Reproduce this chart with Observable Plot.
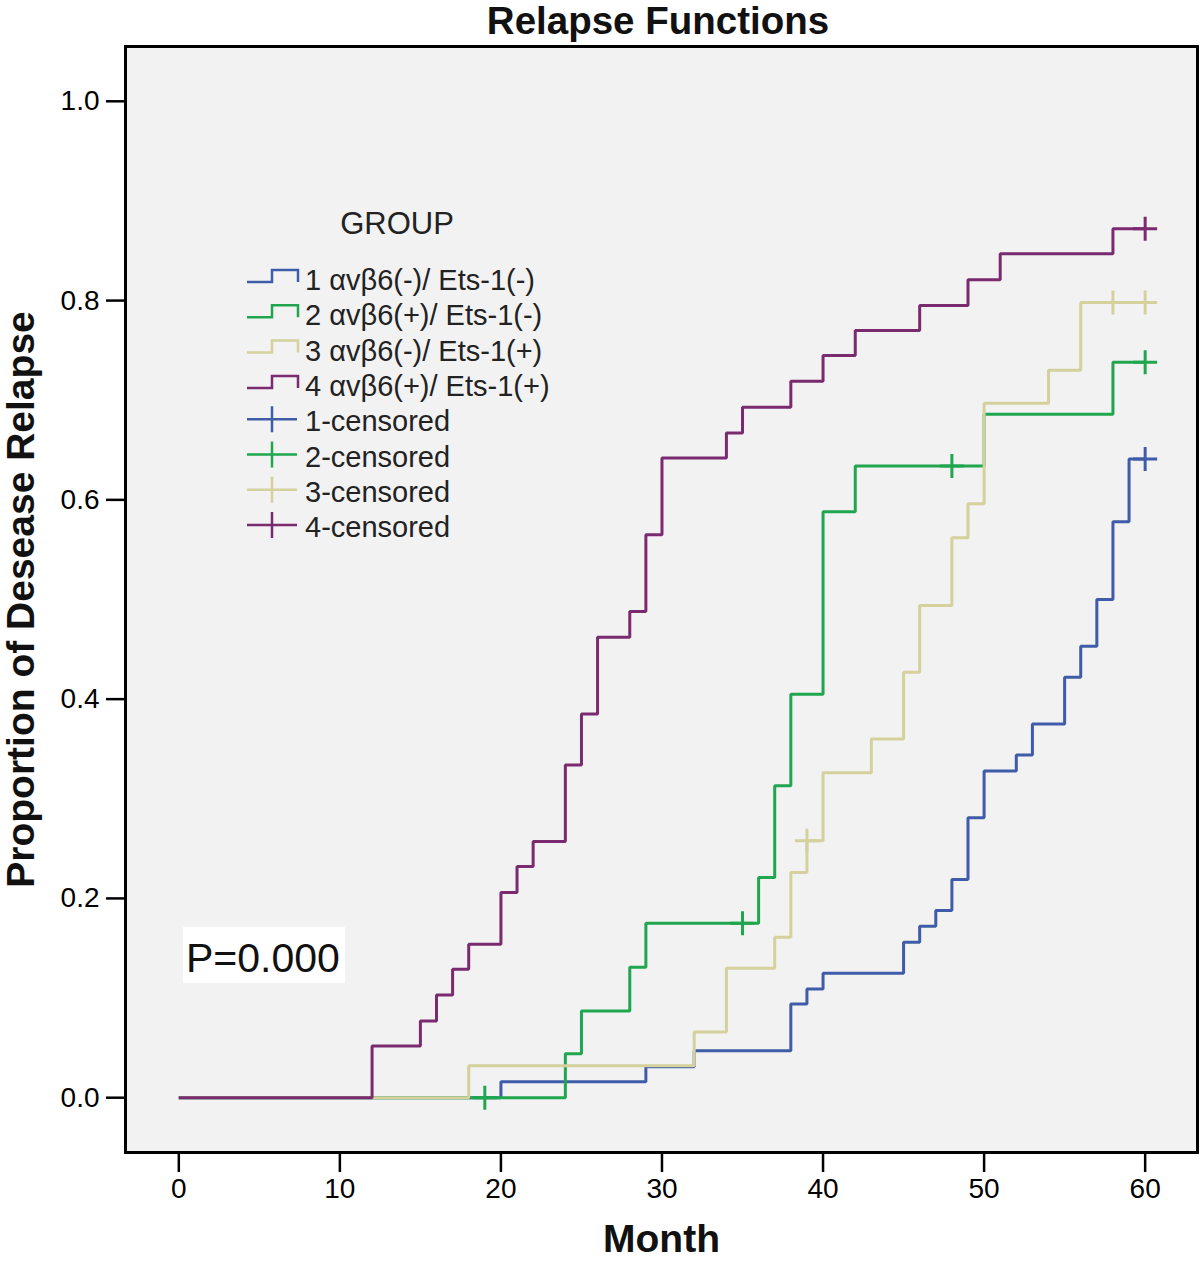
<!DOCTYPE html>
<html><head><meta charset="utf-8">
<script src="https://cdn.jsdelivr.net/npm/d3@7"></script>
<script src="https://cdn.jsdelivr.net/npm/@observablehq/plot@0.6"></script>
<style>
body{margin:0;background:#fff;font-family:"Liberation Sans",Arial,Helvetica,sans-serif;}
#wrap{position:relative;width:1200px;height:1266px;overflow:hidden;}
#title{height:40px;width:1084px;padding-left:116px;text-align:center;font-weight:bold;font-size:38.5px;line-height:42px;overflow:visible;color:#111;}
#overlay{position:absolute;left:0;top:0;pointer-events:none;}
</style></head><body>
<div id="wrap"><div id="title">Relapse Functions</div><div id="chart"></div></div>
<script>
// ---- data ----
const groups = ["1", "2", "3", "4"];
const groupLabels = ["1 αvβ6(-)/ Ets-1(-)", "2 αvβ6(+)/ Ets-1(-)", "3 αvβ6(-)/ Ets-1(+)", "4 αvβ6(+)/ Ets-1(+)"];
const censorLabels = ["1-censored", "2-censored", "3-censored", "4-censored"];
const colors = ["#3f5ca8", "#1fa64e", "#d4d19c", "#7a2a6f"];

const g1Time = [20, 29, 32, 38, 39, 40, 45, 46, 47, 48, 49, 50, 52, 53, 55, 56, 57, 58, 59];
const g1Val  = [0.016, 0.031, 0.047, 0.094, 0.109, 0.125, 0.156, 0.172, 0.188, 0.219, 0.281, 0.328, 0.344, 0.375, 0.422, 0.453, 0.500, 0.578, 0.641];
const g1CensTime = [60];
const g1CensVal  = [0.641];

const g2Time = [24, 25, 28, 29, 36, 37, 38, 40, 42, 50, 58];
const g2Val  = [0.044, 0.087, 0.131, 0.175, 0.221, 0.313, 0.405, 0.588, 0.634, 0.686, 0.738];
const g2CensTime = [19, 35, 48, 60];
const g2CensVal  = [0, 0.175, 0.634, 0.738];

const g3Time = [18, 32, 34, 37, 38, 39, 40, 43, 45, 46, 48, 49, 50, 54, 56];
const g3Val  = [0.032, 0.066, 0.130, 0.161, 0.226, 0.258, 0.326, 0.360, 0.427, 0.494, 0.562, 0.596, 0.697, 0.730, 0.798];
const g3CensTime = [39, 58, 60];
const g3CensVal  = [0.258, 0.798, 0.798];

const g4Time = [12, 15, 16, 17, 18, 20, 21, 22, 24, 25, 26, 28, 29, 30, 34, 35, 38, 40, 42, 46, 49, 51, 58];
const g4Val  = [0.052, 0.077, 0.103, 0.129, 0.154, 0.206, 0.232, 0.257, 0.334, 0.385, 0.462, 0.488, 0.565, 0.642, 0.667, 0.693, 0.719, 0.745, 0.770, 0.795, 0.821, 0.847, 0.872];
const g4CensTime = [60];
const g4CensVal  = [0.872];

const endTime = [60, 60, 60, 60];
const xTicks = [0, 10, 20, 30, 40, 50, 60];
const yTicks = [0, 0.2, 0.4, 0.6, 0.8, 1.0];
const pText = "P=0.000";

// ---- build tables ----
const times = [g1Time, g2Time, g3Time, g4Time];
const vals = [g1Val, g2Val, g3Val, g4Val];
const cTimes = [g1CensTime, g2CensTime, g3CensTime, g4CensTime];
const cVals = [g1CensVal, g2CensVal, g3CensVal, g4CensVal];

const steps = [];
groups.forEach((g, i) => {
  steps.push({g, t: 0, v: 0});
  times[i].forEach((t, j) => steps.push({g, t, v: vals[i][j]}));
  steps.push({g, t: endTime[i], v: vals[i][vals[i].length - 1]});
});
const censored = [];
groups.forEach((g, i) => cTimes[i].forEach((t, j) => censored.push({g, t, v: cVals[i][j]})));

const plusSymbol = {
  draw(ctx, size) {
    const r = Math.sqrt(size / Math.PI);
    ctx.moveTo(-r, 0); ctx.lineTo(r, 0);
    ctx.moveTo(0, -r); ctx.lineTo(0, r);
  }
};

const font = '"Liberation Sans", Arial, Helvetica, sans-serif';
const chart = Plot.plot({
  width: 1200, height: 1226,
  marginTop: 6, marginLeft: 125, marginRight: 3, marginBottom: 114,
  x: {domain: [-3.31, 63.25]},
  y: {domain: [-0.055, 1.055]},
  color: {domain: groups, range: colors},
  style: {fontFamily: font, fontSize: "28px", color: "#000", background: "transparent", overflow: "visible"},
  marks: [
    Plot.frame({fill: "#f2f2f2"}),
    Plot.axisY({ticks: yTicks, tickFormat: d => d.toFixed(1), tickSize: 19, tickPadding: 7, strokeWidth: 2.5, fontSize: 28, label: null}),
    Plot.axisX({ticks: xTicks, tickSize: 20, tickPadding: 6, strokeWidth: 2.5, fontSize: 28, label: null}),
    Plot.line(steps, {x: "t", y: "v", z: "g", stroke: "g", curve: "step-after", strokeWidth: 3, strokeLinejoin: "miter", strokeLinecap: "butt"}),
    Plot.dot(censored, {x: "t", y: "v", stroke: "g", symbol: plusSymbol, r: 12, strokeWidth: 3, fill: "none"}),
    Plot.frame({stroke: "#000", strokeWidth: 3}),
    Plot.text(["Month"], {frameAnchor: "bottom", text: d => d, dy: 99, fontSize: 39, fontWeight: "bold", fill: "#111"}),
    Plot.text(["Proportion of Desease Relapse"], {frameAnchor: "left", textAnchor: "middle", text: d => d, rotate: -90, dx: -104, fontSize: 39, fontWeight: "bold", fill: "#111"})
  ]
});
document.getElementById("chart").appendChild(chart);

// ---- legend and p-value annotation (overlay) ----
const ov = d3.select("#wrap").append("svg").attr("id", "overlay")
  .attr("width", 1200).attr("height", 1266)
  .style("font-family", font);
ov.append("text").attr("x", 397).attr("y", 223).attr("dy", "0.35em")
  .attr("text-anchor", "middle").attr("font-size", 31).attr("fill", "#222").text("GROUP");
const rowY0 = 280, rowStep = 35.3;
groupLabels.forEach((lab, i) => {
  const c = rowY0 + i * rowStep;
  ov.append("path").attr("d", `M247,${c + 2}H272V${c - 10}H298V${c + 2}`)
    .attr("fill", "none").attr("stroke", colors[i]).attr("stroke-width", 2.5);
  ov.append("text").attr("x", 305).attr("y", c).attr("dy", "0.35em")
    .attr("font-size", 29).attr("fill", "#222").text(lab);
});
censorLabels.forEach((lab, i) => {
  const c = rowY0 + (i + 4) * rowStep;
  ov.append("path").attr("d", `M247,${c - 2}H297M272,${c - 15}V${c + 11}`)
    .attr("fill", "none").attr("stroke", colors[i]).attr("stroke-width", 2.5);
  ov.append("text").attr("x", 305).attr("y", c).attr("dy", "0.35em")
    .attr("font-size", 29).attr("fill", "#222").text(lab);
});
ov.append("rect").attr("x", 183).attr("y", 927).attr("width", 162).attr("height", 56).attr("fill", "#fff");
ov.append("text").attr("x", 186).attr("y", 972).attr("font-size", 41).attr("fill", "#111").text(pText);
</script>
</body></html>
